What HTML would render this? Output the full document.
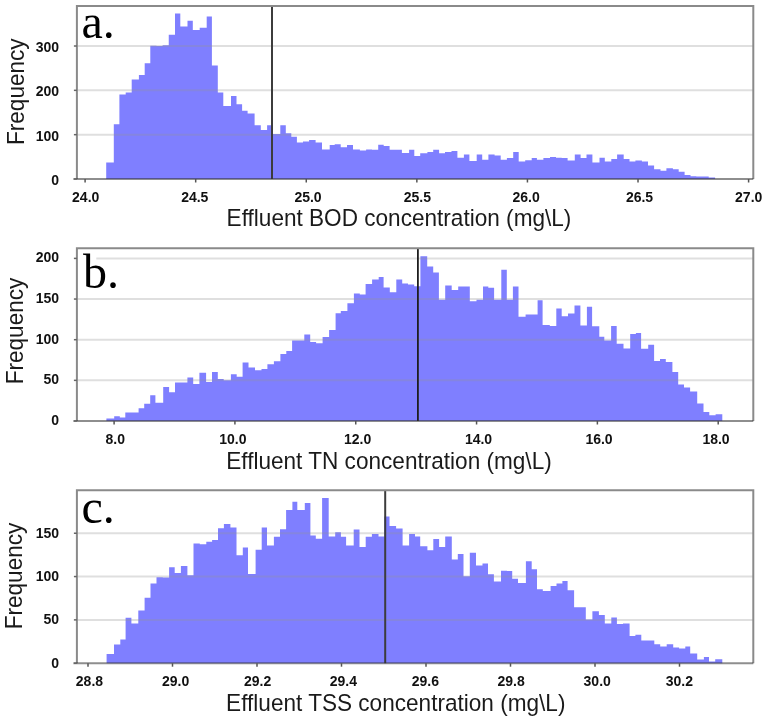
<!DOCTYPE html>
<html><head><meta charset="utf-8"><style>
html,body{margin:0;padding:0;background:#fff;}
svg{display:block;}
#w{width:767px;height:720px;will-change:transform;}
.tk{font-family:"Liberation Sans",sans-serif;font-weight:bold;font-size:14px;fill:#111;}
.ti{font-family:"Liberation Sans",sans-serif;font-size:22.6px;fill:#1a1a1a;}
.lt{font-family:"Liberation Serif",serif;font-size:48px;fill:#000;}
</style></head><body>
<div id="w"><svg width="767" height="720" viewBox="0 0 767 720">
<rect width="767" height="720" fill="#fff"/>
<path d="M106.20,179.00L106.20,162.50L113.80,162.50L113.80,124.20L119.40,124.20L119.40,94.40L125.70,94.40L125.70,92.40L131.70,92.40L131.70,79.40L138.90,79.40L138.90,75.00L144.70,75.00L144.70,63.20L150.30,63.20L150.30,45.80L156.50,45.80L156.50,46.00L162.60,46.00L162.60,45.30L168.75,45.30L168.75,34.70L175.00,34.70L175.00,13.50L180.30,13.50L180.30,26.40L187.50,26.40L187.50,20.80L192.80,20.80L192.80,29.90L199.70,29.90L199.70,27.80L206.70,27.80L206.70,16.40L211.90,16.40L211.90,65.60L217.80,65.60L217.80,92.50L223.30,92.50L223.30,106.10L231.00,106.10L231.00,96.10L236.50,96.10L236.50,104.20L242.10,104.20L242.10,110.70L247.60,110.70L247.60,113.50L254.60,113.50L254.60,125.30L260.80,125.30L260.80,130.10L267.10,130.10L267.10,125.30L272.90,125.30L272.90,133.90L280.30,133.90L280.30,125.30L285.80,125.30L285.80,133.30L291.30,133.30L291.30,136.80L296.90,136.80L296.90,142.50L303.00,142.50L303.00,141.50L309.10,141.50L309.10,140.10L315.60,140.10L315.60,142.50L322.00,142.50L322.00,149.50L329.70,149.50L329.70,145.00L334.70,145.00L334.70,144.20L340.70,144.20L340.70,147.30L347.00,147.30L347.00,145.10L353.00,145.10L353.00,149.40L359.90,149.40L359.90,150.60L366.10,150.60L366.10,149.60L372.00,149.60L372.00,149.70L378.20,149.70L378.20,144.70L383.70,144.70L383.70,146.10L389.60,146.10L389.60,149.70L395.70,149.70L395.70,149.70L401.90,149.70L401.90,152.90L409.10,152.90L409.10,149.70L414.30,149.70L414.30,155.90L420.20,155.90L420.20,153.20L427.40,153.20L427.40,151.90L433.20,151.90L433.20,149.70L439.10,149.70L439.10,153.20L445.00,153.20L445.00,151.90L451.50,151.90L451.50,150.90L457.40,150.90L457.40,157.80L463.90,157.80L463.90,154.50L469.40,154.50L469.40,161.10L476.70,161.10L476.70,154.50L482.20,154.50L482.20,159.80L488.40,159.80L488.40,154.50L494.60,154.50L494.60,155.50L500.70,155.50L500.70,159.80L506.90,159.80L506.90,158.10L513.20,158.10L513.20,151.90L518.70,151.90L518.70,161.50L525.20,161.50L525.20,160.20L531.70,160.20L531.70,158.10L536.90,158.10L536.90,159.80L543.40,159.80L543.40,158.10L550.00,158.10L550.00,156.90L556.00,156.90L556.00,157.80L561.70,157.80L561.70,158.10L567.60,158.10L567.60,160.40L574.80,160.40L574.80,154.50L580.60,154.50L580.60,158.10L586.50,158.10L586.50,154.50L592.40,154.50L592.40,162.40L599.50,162.40L599.50,157.80L604.80,157.80L604.80,161.50L611.30,161.50L611.30,159.10L617.10,159.10L617.10,154.50L623.70,154.50L623.70,158.90L629.50,158.90L629.50,161.50L635.40,161.50L635.40,160.40L641.90,160.40L641.90,161.50L648.00,161.50L648.00,165.40L654.10,165.40L654.10,169.30L660.50,169.30L660.50,170.80L666.40,170.80L666.40,168.20L672.90,168.20L672.90,169.30L678.70,169.30L678.70,171.70L684.60,171.70L684.60,175.00L690.50,175.00L690.50,176.20L696.30,176.20L696.30,176.40L702.20,176.40L702.20,176.40L708.70,176.40L708.70,177.60L715.10,177.60L715.10,179.00Z" fill="#7f7fff"/>
<line x1="76.9" y1="134.67" x2="753.3" y2="134.67" stroke="rgba(150,150,150,0.30)" stroke-width="2"/>
<line x1="76.9" y1="90.33999999999999" x2="753.3" y2="90.33999999999999" stroke="rgba(150,150,150,0.30)" stroke-width="2"/>
<line x1="76.9" y1="46.00999999999999" x2="753.3" y2="46.00999999999999" stroke="rgba(150,150,150,0.30)" stroke-width="2"/>
<line x1="272.0" y1="6.1" x2="272.0" y2="179.0" stroke="#3c3c3c" stroke-width="2.0"/>
<path d="M76.9,179.0L76.9,6.1L753.3,6.1L753.3,179.0" fill="none" stroke="#8a8a8a" stroke-width="2"/>
<line x1="73.4" y1="179.0" x2="753.3" y2="179.0" stroke="rgba(50,50,50,0.55)" stroke-width="2"/>
<line x1="73.9" y1="179.0" x2="76.9" y2="179.0" stroke="#666" stroke-width="1.5"/>
<text x="59" y="184.90" text-anchor="end" class="tk">0</text>
<line x1="73.9" y1="134.67" x2="76.9" y2="134.67" stroke="#666" stroke-width="1.5"/>
<text x="59" y="140.57" text-anchor="end" class="tk">100</text>
<line x1="73.9" y1="90.33999999999999" x2="76.9" y2="90.33999999999999" stroke="#666" stroke-width="1.5"/>
<text x="59" y="96.24" text-anchor="end" class="tk">200</text>
<line x1="73.9" y1="46.00999999999999" x2="76.9" y2="46.00999999999999" stroke="#666" stroke-width="1.5"/>
<text x="59" y="51.91" text-anchor="end" class="tk">300</text>
<line x1="85.1" y1="179.0" x2="85.1" y2="182.5" stroke="#555" stroke-width="1.5"/>
<text x="85.70" y="201.60" text-anchor="middle" class="tk">24.0</text>
<line x1="195.68333333333334" y1="179.0" x2="195.68333333333334" y2="182.5" stroke="#555" stroke-width="1.5"/>
<text x="194.75" y="201.60" text-anchor="middle" class="tk">24.5</text>
<line x1="306.26666666666665" y1="179.0" x2="306.26666666666665" y2="182.5" stroke="#555" stroke-width="1.5"/>
<text x="308.00" y="201.60" text-anchor="middle" class="tk">25.0</text>
<line x1="416.85" y1="179.0" x2="416.85" y2="182.5" stroke="#555" stroke-width="1.5"/>
<text x="417.30" y="201.60" text-anchor="middle" class="tk">25.5</text>
<line x1="527.4333333333333" y1="179.0" x2="527.4333333333333" y2="182.5" stroke="#555" stroke-width="1.5"/>
<text x="526.10" y="201.60" text-anchor="middle" class="tk">26.0</text>
<line x1="638.0166666666667" y1="179.0" x2="638.0166666666667" y2="182.5" stroke="#555" stroke-width="1.5"/>
<text x="639.50" y="201.60" text-anchor="middle" class="tk">26.5</text>
<line x1="748.6" y1="179.0" x2="748.6" y2="182.5" stroke="#555" stroke-width="1.5"/>
<text x="748.70" y="201.60" text-anchor="middle" class="tk">27.0</text>
<text transform="translate(226.6,226.0) scale(1,1.065)" class="ti">Effluent BOD concentration (mg\L)</text>
<text transform="translate(24.4,91.7) rotate(-90) scale(1,1.065)" text-anchor="middle" class="ti">Frequency</text>

<text x="81.5" y="37.5" class="lt">a.</text>
<path d="M106.40,421.00L106.40,418.50L114.20,418.50L114.20,416.20L119.80,416.20L119.80,417.50L125.30,417.50L125.30,412.50L131.90,412.50L131.90,412.50L138.60,412.50L138.60,408.30L144.20,408.30L144.20,403.70L150.20,403.70L150.20,395.20L155.40,395.20L155.40,402.80L163.20,402.80L163.20,387.10L169.10,387.10L169.10,392.30L175.00,392.30L175.00,382.40L181.20,382.40L181.20,382.40L187.40,382.40L187.40,377.60L193.20,377.60L193.20,384.10L199.40,384.10L199.40,372.70L206.10,372.70L206.10,381.90L212.00,381.90L212.00,372.00L217.80,372.00L217.80,378.90L223.70,378.90L223.70,380.20L230.90,380.20L230.90,374.30L236.70,374.30L236.70,376.70L242.60,376.70L242.60,362.60L248.50,362.60L248.50,367.50L255.00,367.50L255.00,370.20L261.50,370.20L261.50,369.10L267.40,369.10L267.40,364.20L273.90,364.20L273.90,361.30L280.40,361.30L280.40,354.10L286.30,354.10L286.30,350.90L292.10,350.90L292.10,340.60L298.20,340.60L298.20,340.60L304.30,340.60L304.30,334.60L310.20,334.60L310.20,342.10L316.10,342.10L316.10,343.20L322.60,343.20L322.60,336.90L329.10,336.90L329.10,330.10L335.60,330.10L335.60,313.20L340.80,313.20L340.80,311.10L347.40,311.10L347.40,303.30L353.90,303.30L353.90,293.60L359.80,293.60L359.80,294.60L365.60,294.60L365.60,284.10L372.10,284.10L372.10,279.60L378.70,279.60L378.70,277.10L383.60,277.10L383.60,287.40L389.80,287.40L389.80,292.20L396.30,292.20L396.30,279.60L402.20,279.60L402.20,283.50L408.00,283.50L408.00,284.50L414.20,284.50L414.20,286.30L420.40,286.30L420.40,256.20L427.20,256.20L427.20,266.50L433.20,266.50L433.20,272.40L438.90,272.40L438.90,299.80L445.20,299.80L445.20,285.40L451.70,285.40L451.70,290.00L458.20,290.00L458.20,286.50L463.80,286.50L463.80,286.50L469.80,286.50L469.80,301.30L476.50,301.30L476.50,299.80L483.00,299.80L483.00,286.50L488.30,286.50L488.30,287.80L494.10,287.80L494.10,299.80L501.30,299.80L501.30,269.80L506.80,269.80L506.80,299.80L512.90,299.80L512.90,286.40L518.50,286.40L518.50,316.80L525.60,316.80L525.60,314.50L531.50,314.50L531.50,314.50L537.60,314.50L537.60,300.30L542.60,300.30L542.60,325.00L549.80,325.00L549.80,325.90L556.30,325.90L556.30,308.50L561.70,308.50L561.70,316.30L568.00,316.30L568.00,313.60L574.50,313.60L574.50,305.40L580.40,305.40L580.40,325.60L586.90,325.60L586.90,306.70L592.10,306.70L592.10,326.30L599.30,326.30L599.30,336.80L604.30,336.80L604.30,340.40L611.10,340.40L611.10,325.90L616.70,325.90L616.70,343.70L623.50,343.70L623.50,348.40L630.20,348.40L630.20,334.10L635.90,334.10L635.90,333.00L641.10,333.00L641.10,348.70L648.20,348.70L648.20,344.80L654.10,344.80L654.10,361.10L660.00,361.10L660.00,358.90L665.80,358.90L665.80,362.00L672.40,362.00L672.40,371.90L678.20,371.90L678.20,384.50L684.00,384.50L684.00,387.40L690.10,387.40L690.10,391.50L697.20,391.50L697.20,403.50L703.50,403.50L703.50,411.90L709.30,411.90L709.30,415.20L715.60,415.20L715.60,414.20L722.30,414.20L722.30,421.00Z" fill="#7f7fff"/>
<line x1="76.9" y1="380.35" x2="753.3" y2="380.35" stroke="rgba(150,150,150,0.30)" stroke-width="2"/>
<line x1="76.9" y1="339.7" x2="753.3" y2="339.7" stroke="rgba(150,150,150,0.30)" stroke-width="2"/>
<line x1="76.9" y1="299.05" x2="753.3" y2="299.05" stroke="rgba(150,150,150,0.30)" stroke-width="2"/>
<line x1="76.9" y1="258.4" x2="753.3" y2="258.4" stroke="rgba(150,150,150,0.30)" stroke-width="2"/>
<line x1="417.9" y1="248.2" x2="417.9" y2="421.0" stroke="#1e1e1e" stroke-width="1.8"/>
<path d="M76.9,421.0L76.9,248.2L753.3,248.2L753.3,421.0" fill="none" stroke="#8a8a8a" stroke-width="2"/>
<line x1="73.4" y1="421.0" x2="753.3" y2="421.0" stroke="rgba(50,50,50,0.55)" stroke-width="2"/>
<line x1="73.9" y1="421.0" x2="76.9" y2="421.0" stroke="#666" stroke-width="1.5"/>
<text x="59" y="425.00" text-anchor="end" class="tk">0</text>
<line x1="73.9" y1="380.35" x2="76.9" y2="380.35" stroke="#666" stroke-width="1.5"/>
<text x="59" y="384.35" text-anchor="end" class="tk">50</text>
<line x1="73.9" y1="339.7" x2="76.9" y2="339.7" stroke="#666" stroke-width="1.5"/>
<text x="59" y="343.70" text-anchor="end" class="tk">100</text>
<line x1="73.9" y1="299.05" x2="76.9" y2="299.05" stroke="#666" stroke-width="1.5"/>
<text x="59" y="303.05" text-anchor="end" class="tk">150</text>
<line x1="73.9" y1="258.4" x2="76.9" y2="258.4" stroke="#666" stroke-width="1.5"/>
<text x="59" y="262.40" text-anchor="end" class="tk">200</text>
<line x1="114.1" y1="421.0" x2="114.1" y2="424.5" stroke="#555" stroke-width="1.5"/>
<text x="115.30" y="444.10" text-anchor="middle" class="tk">8.0</text>
<line x1="234.92000000000002" y1="421.0" x2="234.92000000000002" y2="424.5" stroke="#555" stroke-width="1.5"/>
<text x="232.85" y="444.10" text-anchor="middle" class="tk">10.0</text>
<line x1="355.74" y1="421.0" x2="355.74" y2="424.5" stroke="#555" stroke-width="1.5"/>
<text x="357.60" y="444.10" text-anchor="middle" class="tk">12.0</text>
<line x1="476.56000000000006" y1="421.0" x2="476.56000000000006" y2="424.5" stroke="#555" stroke-width="1.5"/>
<text x="478.50" y="444.10" text-anchor="middle" class="tk">14.0</text>
<line x1="597.38" y1="421.0" x2="597.38" y2="424.5" stroke="#555" stroke-width="1.5"/>
<text x="599.00" y="444.10" text-anchor="middle" class="tk">16.0</text>
<line x1="718.2" y1="421.0" x2="718.2" y2="424.5" stroke="#555" stroke-width="1.5"/>
<text x="716.00" y="444.10" text-anchor="middle" class="tk">18.0</text>
<text transform="translate(226.2,469.2) scale(1,1.065)" class="ti">Effluent TN concentration (mg\L)</text>
<text transform="translate(22.6,331) rotate(-90) scale(1,1.065)" text-anchor="middle" class="ti">Frequency</text>
<rect x="78" y="250" width="18.3" height="40" fill="#fff"/>
<text x="83.0" y="288.0" class="lt">b.</text>
<path d="M106.60,663.20L106.60,653.90L114.00,653.90L114.00,644.40L120.30,644.40L120.30,639.40L125.60,639.40L125.60,617.70L131.40,617.70L131.40,623.60L138.30,623.60L138.30,610.60L144.60,610.60L144.60,597.70L150.50,597.70L150.50,583.40L156.50,583.40L156.50,577.30L162.80,577.30L162.80,577.50L169.10,577.50L169.10,567.20L174.70,567.20L174.70,573.00L180.90,573.00L180.90,566.10L187.40,566.10L187.40,575.20L193.50,575.20L193.50,543.40L199.80,543.40L199.80,544.30L206.30,544.30L206.30,541.70L212.10,541.70L212.10,540.00L218.00,540.00L218.00,528.30L223.90,528.30L223.90,524.10L230.40,524.10L230.40,527.40L236.50,527.40L236.50,555.20L242.80,555.20L242.80,547.40L248.00,547.40L248.00,573.90L255.60,573.90L255.60,549.80L261.70,549.80L261.70,527.60L267.00,527.60L267.00,545.60L273.90,545.60L273.90,536.70L280.00,536.70L280.00,529.20L286.10,529.20L286.10,510.00L292.40,510.00L292.40,501.80L297.30,501.80L297.30,510.00L304.80,510.00L304.80,503.10L310.40,503.10L310.40,535.40L315.80,535.40L315.80,538.70L322.10,538.70L322.10,497.90L328.70,497.90L328.70,536.50L335.20,536.50L335.20,532.20L340.90,532.20L340.90,536.70L346.10,536.70L346.10,545.60L353.70,545.60L353.70,529.60L359.50,529.60L359.50,546.90L365.70,546.90L365.70,536.70L371.90,536.70L371.90,533.90L378.50,533.90L378.50,536.50L384.30,536.50L384.30,516.50L389.50,516.50L389.50,526.00L396.10,526.00L396.10,528.60L402.60,528.60L402.60,545.60L409.10,545.60L409.10,534.10L415.00,534.10L415.00,536.60L420.20,536.60L420.20,546.30L427.40,546.30L427.40,550.20L433.30,550.20L433.30,539.10L439.10,539.10L439.10,547.00L445.20,547.00L445.20,536.50L451.80,536.50L451.80,559.60L457.80,559.60L457.80,554.10L463.50,554.10L463.50,576.30L469.80,576.30L469.80,552.80L476.00,552.80L476.00,565.60L482.50,565.60L482.50,563.50L488.00,563.50L488.00,574.30L493.90,574.30L493.90,581.50L501.00,581.50L501.00,570.80L506.90,570.80L506.90,570.90L512.20,570.90L512.20,578.70L518.00,578.70L518.00,583.00L525.90,583.00L525.90,561.30L531.70,561.30L531.70,569.30L537.00,569.30L537.00,589.20L542.80,589.20L542.80,590.90L550.60,590.90L550.60,586.00L556.50,586.00L556.50,583.40L562.40,583.40L562.40,581.10L567.60,581.10L567.60,590.20L574.10,590.20L574.10,607.20L580.00,607.20L580.00,607.20L585.80,607.20L585.80,619.50L592.40,619.50L592.40,611.30L598.90,611.30L598.90,614.90L604.80,614.90L604.80,623.40L611.30,623.40L611.30,617.40L616.90,617.40L616.90,623.90L623.00,623.90L623.00,623.40L629.60,623.40L629.60,636.10L635.40,636.10L635.40,634.80L641.30,634.80L641.30,640.60L647.80,640.60L647.80,640.60L654.30,640.60L654.30,644.30L660.20,644.30L660.20,646.50L666.70,646.50L666.70,644.30L673.20,644.30L673.20,647.40L679.10,647.40L679.10,648.50L685.30,648.50L685.30,646.50L690.20,646.50L690.20,653.50L697.20,653.50L697.20,659.40L703.90,659.40L703.90,656.90L709.00,656.90L709.00,661.40L715.20,661.40L715.20,659.30L722.30,659.30L722.30,663.20Z" fill="#7f7fff"/>
<line x1="76.9" y1="619.88" x2="753.3" y2="619.88" stroke="rgba(150,150,150,0.30)" stroke-width="2"/>
<line x1="76.9" y1="576.5600000000001" x2="753.3" y2="576.5600000000001" stroke="rgba(150,150,150,0.30)" stroke-width="2"/>
<line x1="76.9" y1="533.24" x2="753.3" y2="533.24" stroke="rgba(150,150,150,0.30)" stroke-width="2"/>
<line x1="385.2" y1="490.2" x2="385.2" y2="663.2" stroke="#3c3c3c" stroke-width="2.0"/>
<path d="M76.9,663.2L76.9,490.2L753.3,490.2L753.3,663.2" fill="none" stroke="#8a8a8a" stroke-width="2"/>
<line x1="73.4" y1="663.2" x2="753.3" y2="663.2" stroke="rgba(50,50,50,0.55)" stroke-width="2"/>
<line x1="73.9" y1="663.2" x2="76.9" y2="663.2" stroke="#666" stroke-width="1.5"/>
<text x="59" y="667.60" text-anchor="end" class="tk">0</text>
<line x1="73.9" y1="619.88" x2="76.9" y2="619.88" stroke="#666" stroke-width="1.5"/>
<text x="59" y="624.28" text-anchor="end" class="tk">50</text>
<line x1="73.9" y1="576.5600000000001" x2="76.9" y2="576.5600000000001" stroke="#666" stroke-width="1.5"/>
<text x="59" y="580.96" text-anchor="end" class="tk">100</text>
<line x1="73.9" y1="533.24" x2="76.9" y2="533.24" stroke="#666" stroke-width="1.5"/>
<text x="59" y="537.64" text-anchor="end" class="tk">150</text>
<line x1="88.00000000000026" y1="663.2" x2="88.00000000000026" y2="666.7" stroke="#555" stroke-width="1.5"/>
<text x="89.45" y="685.80" text-anchor="middle" class="tk">28.8</text>
<line x1="172.5" y1="663.2" x2="172.5" y2="666.7" stroke="#555" stroke-width="1.5"/>
<text x="175.60" y="685.80" text-anchor="middle" class="tk">29.0</text>
<line x1="256.9999999999998" y1="663.2" x2="256.9999999999998" y2="666.7" stroke="#555" stroke-width="1.5"/>
<text x="257.60" y="685.80" text-anchor="middle" class="tk">29.2</text>
<line x1="341.4999999999995" y1="663.2" x2="341.4999999999995" y2="666.7" stroke="#555" stroke-width="1.5"/>
<text x="343.30" y="685.80" text-anchor="middle" class="tk">29.4</text>
<line x1="426.0000000000008" y1="663.2" x2="426.0000000000008" y2="666.7" stroke="#555" stroke-width="1.5"/>
<text x="425.40" y="685.80" text-anchor="middle" class="tk">29.6</text>
<line x1="510.5000000000005" y1="663.2" x2="510.5000000000005" y2="666.7" stroke="#555" stroke-width="1.5"/>
<text x="511.10" y="685.80" text-anchor="middle" class="tk">29.8</text>
<line x1="595.0000000000002" y1="663.2" x2="595.0000000000002" y2="666.7" stroke="#555" stroke-width="1.5"/>
<text x="597.20" y="685.80" text-anchor="middle" class="tk">30.0</text>
<line x1="679.5" y1="663.2" x2="679.5" y2="666.7" stroke="#555" stroke-width="1.5"/>
<text x="679.40" y="685.80" text-anchor="middle" class="tk">30.2</text>
<text transform="translate(226.1,710.9) scale(1,1.065)" class="ti">Effluent TSS concentration (mg\L)</text>
<text transform="translate(22.0,576) rotate(-90) scale(1,1.065)" text-anchor="middle" class="ti">Frequency</text>

<text x="81.5" y="522.5" class="lt">c.</text>
</svg></div>
</body></html>
